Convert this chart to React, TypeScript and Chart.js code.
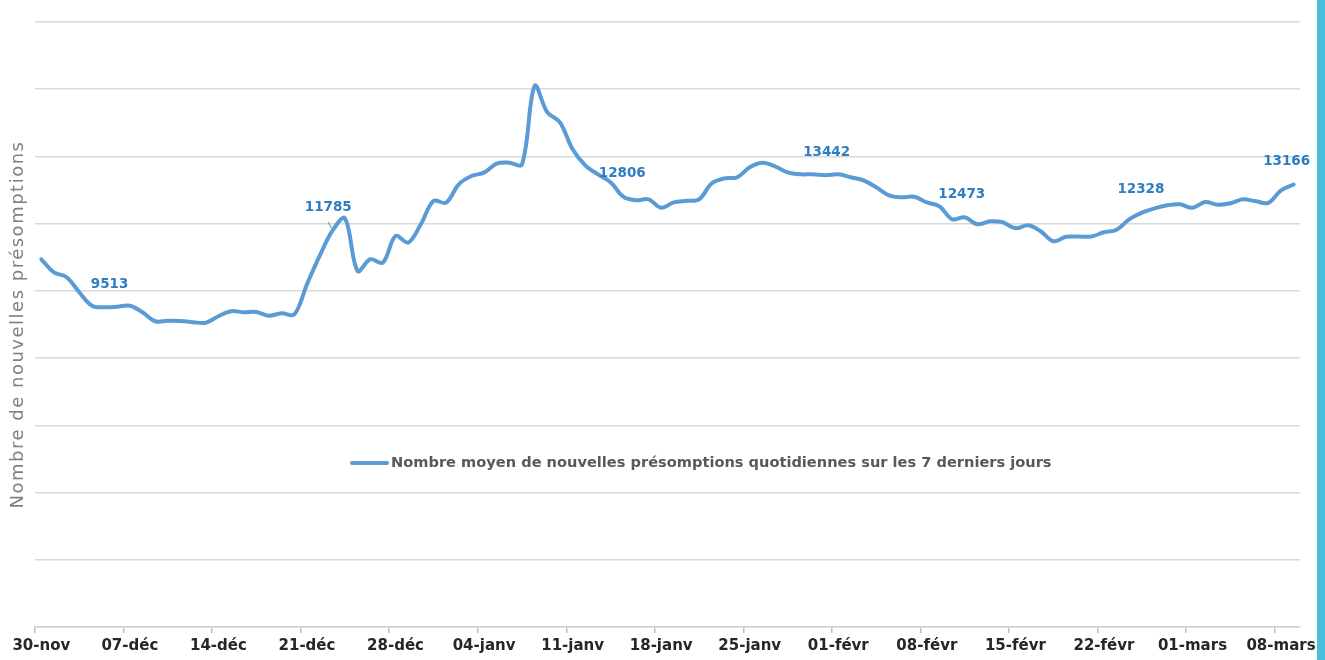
import { useEffect, useRef } from 'react';
import { Chart, registerables } from 'chart.js';

Chart.register(...registerables);

// Categories: one per day, 30 Nov to 9 Mar
const dates: string[] = [
  '30-nov',
  '01-déc', '02-déc', '03-déc', '04-déc', '05-déc', '06-déc', '07-déc', '08-déc', '09-déc', '10-déc',
  '11-déc', '12-déc', '13-déc', '14-déc', '15-déc', '16-déc', '17-déc', '18-déc', '19-déc', '20-déc',
  '21-déc', '22-déc', '23-déc', '24-déc', '25-déc', '26-déc', '27-déc', '28-déc', '29-déc', '30-déc', '31-déc',
  '01-janv', '02-janv', '03-janv', '04-janv', '05-janv', '06-janv', '07-janv', '08-janv', '09-janv', '10-janv',
  '11-janv', '12-janv', '13-janv', '14-janv', '15-janv', '16-janv', '17-janv', '18-janv', '19-janv', '20-janv',
  '21-janv', '22-janv', '23-janv', '24-janv', '25-janv', '26-janv', '27-janv', '28-janv', '29-janv', '30-janv', '31-janv',
  '01-févr', '02-févr', '03-févr', '04-févr', '05-févr', '06-févr', '07-févr', '08-févr', '09-févr', '10-févr',
  '11-févr', '12-févr', '13-févr', '14-févr', '15-févr', '16-févr', '17-févr', '18-févr', '19-févr', '20-févr',
  '21-févr', '22-févr', '23-févr', '24-févr', '25-févr', '26-févr', '27-févr', '28-févr',
  '01-mars', '02-mars', '03-mars', '04-mars', '05-mars', '06-mars', '07-mars', '08-mars', '09-mars',
];

// Series: 7-day average of new daily presumptions
const presumptions: number[] = [
  10940, 10554, 10406, 9960, 9560, 9513, 9530, 9558, 9365, 9097,
  9112, 9106, 9068, 9053, 9246, 9395, 9365, 9374, 9261, 9335,
  9300, 10197, 11039, 11785, 12160, 10593, 10941, 10843, 11633, 11437,
  11981, 12674, 12626, 13170, 13417, 13518, 13786, 13815, 13765, 16100,
  15311, 15014, 14211, 13735, 13468, 13230, 12806, 12695, 12724, 12472,
  12635, 12680, 12724, 13200, 13349, 13379, 13676, 13810, 13705, 13527,
  13468, 13468, 13442, 13468, 13379, 13289, 13081, 12843, 12784, 12799,
  12635, 12516, 12130, 12189, 11981, 12070, 12041, 11862, 11951, 11773,
  11476, 11610, 11616, 11616, 11743, 11818, 12130, 12328, 12457, 12546,
  12576, 12472, 12644, 12561, 12606, 12724, 12665, 12620, 12992, 13166,
];

// Data labels shown on the line
const labelIndices: number[] = [5, 23, 46, 62, 73, 87, 99];
const labelTexts: string[] = ['9513', '11785', '12806', '13442', '12473', '12328', '13166'];

const seriesLabel = 'Nombre moyen de nouvelles présomptions quotidiennes sur les 7 derniers jours';
const yTitle = 'Nombre de nouvelles présomptions';
const yMin = 0;
const yMax = 18000;
const yStep = 2000;
const tickEvery = 7;

const LINE_COLOR = '#5B9BD5';
const LABEL_COLOR = '#2E7DC3';
const LABEL_DX: number[] = [5, -4, -1, 1, -3, -1, -7];

const annotations = {
  id: 'annotations',
  afterDatasetsDraw(chart: any) {
    const ctx: CanvasRenderingContext2D = chart.ctx;
    const meta = chart.getDatasetMeta(0);
    const area = chart.chartArea;
    ctx.save();

    // data labels
    ctx.font = 'bold 13.5px "DejaVu Sans"';
    ctx.fillStyle = LABEL_COLOR;
    ctx.textAlign = 'center';
    ctx.textBaseline = 'middle';
    labelIndices.forEach((idx, k) => {
      const p = meta.data[idx];
      if (!p) return;
      ctx.fillText(labelTexts[k], p.x + LABEL_DX[k], p.y - 23);
      if (idx === 23) {
        ctx.strokeStyle = '#a6a6a6';
        ctx.lineWidth = 1.5;
        ctx.beginPath();
        ctx.moveTo(p.x - 4, p.y - 9);
        ctx.lineTo(p.x - 1, p.y - 3);
        ctx.stroke();
      }
    });

    // legend inside the plot
    const ly = 463;
    ctx.strokeStyle = LINE_COLOR;
    ctx.lineWidth = 4;
    ctx.lineCap = 'round';
    ctx.beginPath();
    ctx.moveTo(352, ly);
    ctx.lineTo(387, ly);
    ctx.stroke();
    ctx.font = 'bold 14.6px "DejaVu Sans"';
    ctx.fillStyle = '#595959';
    ctx.textAlign = 'left';
    ctx.textBaseline = 'middle';
    ctx.fillText(chart.data.datasets[0].label, 391, ly);

    // y axis title
    ctx.translate(18, (area.top + area.bottom) / 2);
    ctx.rotate(-Math.PI / 2);
    (ctx as any).letterSpacing = '1.5px';
    ctx.font = '18px "DejaVu Sans"';
    ctx.fillStyle = '#808080';
    ctx.textAlign = 'center';
    ctx.textBaseline = 'middle';
    ctx.fillText(yTitle, 0, 0);

    ctx.restore();
  },
};

export default function App() {
  const ref = useRef<HTMLCanvasElement>(null);
  useEffect(() => {
    if (!ref.current) return;
    const chart = new Chart(ref.current, {
      type: 'line',
      data: {
        labels: dates,
        datasets: [
          {
            label: seriesLabel,
            data: presumptions,
            borderColor: LINE_COLOR,
            backgroundColor: LINE_COLOR,
            borderWidth: 4,
            pointRadius: 0,
            pointHoverRadius: 0,
            tension: 0.35,
            fill: false,
            borderCapStyle: 'round',
            borderJoinStyle: 'round',
          },
        ],
      },
      options: {
        animation: false,
        responsive: true,
        maintainAspectRatio: false,
        layout: { padding: { left: 35, right: 25, top: 22, bottom: 1 } },
        plugins: { legend: { display: false }, tooltip: { enabled: false } },
        scales: {
          x: {
            type: 'category',
            offset: true,
            grid: {
              display: true,
              offset: true,
              drawOnChartArea: false,
              drawTicks: true,
              tickLength: 6,
              lineWidth: 1.5,
              tickColor: (c: any) => (c.index % tickEvery === 0 ? '#bfbfbf' : 'rgba(0,0,0,0)'),
            },
            border: { display: true, color: '#d0d0d0', width: 1.5 },
            ticks: {
              autoSkip: false,
              maxRotation: 0,
              minRotation: 0,
              padding: 4,
              color: '#262626',
              font: { family: 'DejaVu Sans', size: 15, weight: 'bold' },
              callback: (_v: any, i: number) => (i % tickEvery === 0 ? dates[i] : ''),
            },
          },
          y: {
            min: yMin,
            max: yMax,
            ticks: { display: false, stepSize: yStep },
            grid: { color: '#d9d9d9', lineWidth: 1.5, drawTicks: false },
            border: { display: false },
          },
        },
      },
      plugins: [annotations],
    });
    return () => chart.destroy();
  }, []);

  return (
    <div style={{ position: 'absolute', left: 0, top: 0, width: 1325, height: 660, background: '#ffffff' }}>
      <div style={{ position: 'absolute', left: 0, top: 0, width: 1325, height: 660 }}>
        <canvas ref={ref} />
      </div>
      <div style={{ position: 'absolute', left: 1317, top: 0, width: 8, height: 660, background: '#4BBFD8' }} />
    </div>
  );
}
